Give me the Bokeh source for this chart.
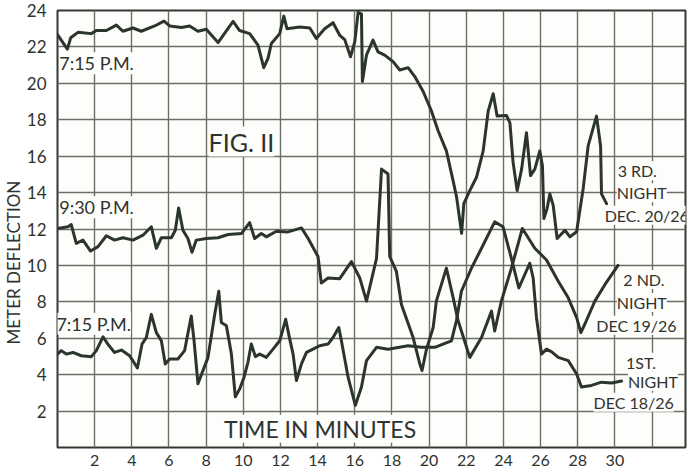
from bokeh.plotting import figure
from bokeh.models import Range1d, FixedTicker, Label, Title
from bokeh.embed import file_html
from bokeh.resources import INLINE

# ---- data (minutes, meter deflection) ----
# 3rd night, Dec 20/26 (7:15 P.M., top trace)
x_night3 = [0, 0.2, 0.53, 0.71, 1.1, 1.82, 2.09, 2.63, 3.17, 3.52, 4.06, 4.51, 5.23, 5.73, 6.04,
            6.67, 7.11, 7.56, 8.01, 8.64, 9.45, 9.8, 10.34, 10.79, 11.1, 11.33, 11.51, 11.96, 12.18,
            12.35, 13.04, 13.58, 13.93, 14.38, 14.83, 15.19, 15.46, 15.77, 16.0, 16.18, 16.36, 16.41,
            16.63, 16.98, 17.25, 17.61, 18.06, 18.42, 18.87, 19.23, 19.68, 20.13, 20.49, 20.93, 21.29,
            21.48, 21.75, 21.87, 22.19, 22.55, 22.91, 23.18, 23.45, 23.66, 24.17, 24.35, 24.52, 24.74,
            24.98, 25.24, 25.46, 25.69, 25.96, 26.1, 26.18, 26.35, 26.5, 26.68, 26.89, 27.31, 27.58,
            27.94, 28.29, 28.56, 29.01, 29.23, 29.28, 29.55]
y_night3 = [22.68, 22.37, 21.88, 22.5, 22.8, 22.73, 22.9, 22.9, 23.2, 22.86, 23.04, 22.86, 23.15, 23.42,
            23.15, 23.07, 23.15, 22.86, 22.97, 22.24, 23.4, 22.9, 22.73, 22.1, 20.86, 21.37, 22.19,
            22.73, 23.69, 23.0, 23.09, 23.04, 22.46, 23.0, 23.33, 22.64, 22.4, 21.46, 22.28, 23.9,
            23.8, 20.1, 21.55, 22.37, 21.73, 21.55, 21.19, 20.73, 20.86, 20.37, 19.55, 18.47, 17.38,
            16.29, 14.66, 13.75, 11.76, 13.39, 14.11, 14.84, 16.29, 18.47, 19.43, 18.2, 18.23, 17.83,
            15.66, 14.11, 15.29, 17.29, 14.93, 15.29, 16.29, 15.47, 12.57, 13.12, 13.93, 13.3, 11.48,
            11.93, 11.57, 11.85, 14.2, 16.56, 18.2, 16.56, 13.93, 13.39]

# 2nd night, Dec 19/26 (9:30 P.M.)
x_night2 = [0, 0.56, 0.74, 1.01, 1.37, 1.78, 2.18, 2.63, 3.07, 3.52, 4.06, 4.6, 5.05, 5.32, 5.59,
            6.13, 6.34, 6.52, 6.75, 7.02, 7.24, 7.47, 8.01, 8.64, 9.18, 9.9, 10.34, 10.61, 10.97,
            11.24, 11.78, 12.41, 13.13, 13.49, 14.02, 14.2, 14.56, 15.19, 15.82, 16.27, 16.63, 17.17,
            17.35, 17.44, 17.79, 17.88, 18.24, 18.51, 19.14, 19.5, 19.62, 19.86, 20.22, 20.39, 20.93,
            21.3, 21.55, 22.19, 22.82, 23.36, 23.53, 23.89, 24.43, 25.02, 25.69, 26.32, 26.95, 27.49,
            27.94, 28.17, 28.38, 28.92, 29.46, 30.17]
y_night2 = [12.03, 12.12, 12.24, 11.21, 11.39, 10.79, 11.03, 11.63, 11.39, 11.52, 11.39, 11.66, 12.12,
            10.94, 11.52, 11.52, 11.93, 13.15, 11.93, 11.48, 10.72, 11.39, 11.48, 11.52, 11.7, 11.75,
            12.35, 11.48, 11.75, 11.57, 11.88, 11.84, 12.06, 11.48, 10.49, 9.03, 9.31, 9.27, 10.21,
            9.31, 8.04, 10.39, 13.66, 15.29, 15.02, 10.49, 9.67, 7.85, 6.04, 4.59, 4.23, 5.4, 6.59,
            8.04, 9.85, 8.2, 7.0, 4.95, 6.04, 7.49, 6.4, 8.04, 9.85, 12.03, 10.94, 10.3, 9.13, 8.22,
            7.13, 6.31, 6.77, 8.04, 8.94, 10.0]

# 1st night, Dec 18/26 (7:15 P.M., bottom trace)
x_night1 = [0, 0.2, 0.47, 0.83, 1.28, 1.82, 2.09, 2.45, 2.71, 3.07, 3.44, 3.88, 4.3, 4.55, 4.78,
            5.05, 5.32, 5.59, 5.8, 6.04, 6.48, 6.84, 7.2, 7.35, 7.56, 8.1, 8.46, 8.68, 8.82, 9.09,
            9.36, 9.57, 9.81, 10.04, 10.25, 10.43, 10.65, 10.88, 11.24, 11.6, 11.96, 12.28, 12.5,
            12.68, 12.86, 13.13, 13.4, 13.75, 14.11, 14.56, 14.83, 15.14, 15.28, 15.64, 16.03, 16.36,
            16.63, 17.17, 17.79, 18.87, 19.59, 20.31, 20.75, 21.2, 21.47, 21.74, 22.28, 22.82, 23.53,
            23.98, 24.43, 24.83, 25.42, 25.6, 25.78, 26.05, 26.32, 26.6, 26.95, 27.49, 27.94, 28.2,
            28.74, 29.28, 29.82, 30.36]
y_night1 = [5.13, 5.32, 5.13, 5.22, 5.04, 4.99, 5.32, 6.08, 5.68, 5.22, 5.35, 5.04, 4.37, 5.68, 6.04,
            7.31, 6.31, 5.86, 4.59, 4.86, 4.86, 5.32, 7.22, 5.86, 3.5, 4.95, 7.31, 8.58, 6.86, 6.68,
            5.13, 2.78, 3.23, 3.86, 4.68, 5.68, 4.99, 5.13, 4.95, 5.4, 5.86, 7.04, 5.95, 5.13, 3.68,
            4.59, 5.22, 5.4, 5.59, 5.68, 6.04, 6.59, 5.86, 3.86, 2.32, 3.32, 4.77, 5.5, 5.4, 5.59,
            5.5, 5.5, 5.68, 5.86, 6.95, 8.58, 9.85, 10.94, 12.39, 12.12, 10.39, 8.76, 10.12, 9.31,
            7.13, 5.13, 5.4, 5.25, 4.95, 4.77, 4.04, 3.32, 3.41, 3.59, 3.54, 3.65]

x_ticks = [2, 4, 6, 8, 10, 12, 14, 16, 18, 20, 22, 24, 26, 28, 30]
y_ticks = [2, 4, 6, 8, 10, 12, 14, 16, 18, 20, 22, 24]
x_grid = [0, 2, 4, 6, 8, 10, 12, 14, 16, 18, 20, 22, 24, 26, 28, 30, 32]
y_grid = [0, 2, 4, 6, 8, 10, 12, 14, 16, 18, 20, 22, 24]

INK = "#2c352d"
GRID = "#6b6e69"
TXT = "#2f332f"
FONT = "Lato"

p = figure(width=692, height=468, output_backend="svg", toolbar_location=None,
           x_range=Range1d(0, 33.8), y_range=Range1d(0, 24),
           min_border_left=57, min_border_right=7, min_border_top=10, min_border_bottom=17)
p.background_fill_color = "#fdfdfb"
p.border_fill_color = "white"
p.outline_line_color = "#333833"
p.outline_line_width = 2

p.xaxis.ticker = FixedTicker(ticks=x_ticks)
p.yaxis.ticker = FixedTicker(ticks=y_ticks)
p.xgrid.ticker = FixedTicker(ticks=x_grid)
p.ygrid.ticker = FixedTicker(ticks=y_grid)
for g in (p.xgrid, p.ygrid):
    g.grid_line_color = GRID
    g.grid_line_width = 1.4
    g.grid_line_alpha = 1.0

for ax in (p.xaxis, p.yaxis):
    ax.axis_line_color = None
    ax.major_tick_line_color = None
    ax.minor_tick_line_color = None
    ax.major_label_text_font = FONT
    ax.major_label_text_color = TXT
    ax.major_label_text_font_style = "normal"
p.xaxis.major_label_text_font_size = "16px"
p.yaxis.major_label_text_font_size = "17px"
p.xaxis.major_label_standoff = 1
p.yaxis.major_label_standoff = 5

# y-axis title as a left-side title, placed lower along the axis
ytitle = Title(text="METER  DEFLECTION", align="left", offset=103, standoff=0,
               text_font=FONT, text_font_size="17px", text_font_style="normal",
               text_color=TXT)
p.add_layout(ytitle, "left")

for xs, ys in ((x_night3, y_night3), (x_night2, y_night2), (x_night1, y_night1)):
    p.line(xs, ys, line_color=INK, line_width=3, line_join="round", line_cap="round")

def lab(text, x, y, size, align="left"):
    p.add_layout(Label(x=x, y=y, text=text, text_font=FONT, text_font_size=size,
                       text_color=TXT, text_align=align, text_baseline="middle",
                       background_fill_color="#fdfdfb", background_fill_alpha=1.0))

lab("7:15 P.M.", 2.1, 21.1, "18px", "center")
lab("FIG. II", 9.9, 16.8, "25px", "center")
lab("9:30 P.M.", 2.1, 13.2, "18px", "center")
lab("7:15 P.M.", 1.95, 6.8, "18px", "center")
lab("TIME  IN  MINUTES", 14.45, 1.03, "23px", "center")

lab("3 RD.", 30.15, 15.2, "16px")
lab("NIGHT", 30.1, 13.99, "16px")
lab("DEC. 20/26", 29.45, 12.75, "16px")
lab("2 ND.", 30.45, 9.22, "16px")
lab("NIGHT", 30.1, 7.97, "16px")
lab("DEC 19/26", 29.0, 6.72, "16px")
lab("1ST.", 30.6, 4.68, "16px")
lab("NIGHT", 30.7, 3.62, "16px")
lab("DEC 18/26", 28.85, 2.48, "16px")

open("out.html", "w").write(file_html(p, INLINE))
